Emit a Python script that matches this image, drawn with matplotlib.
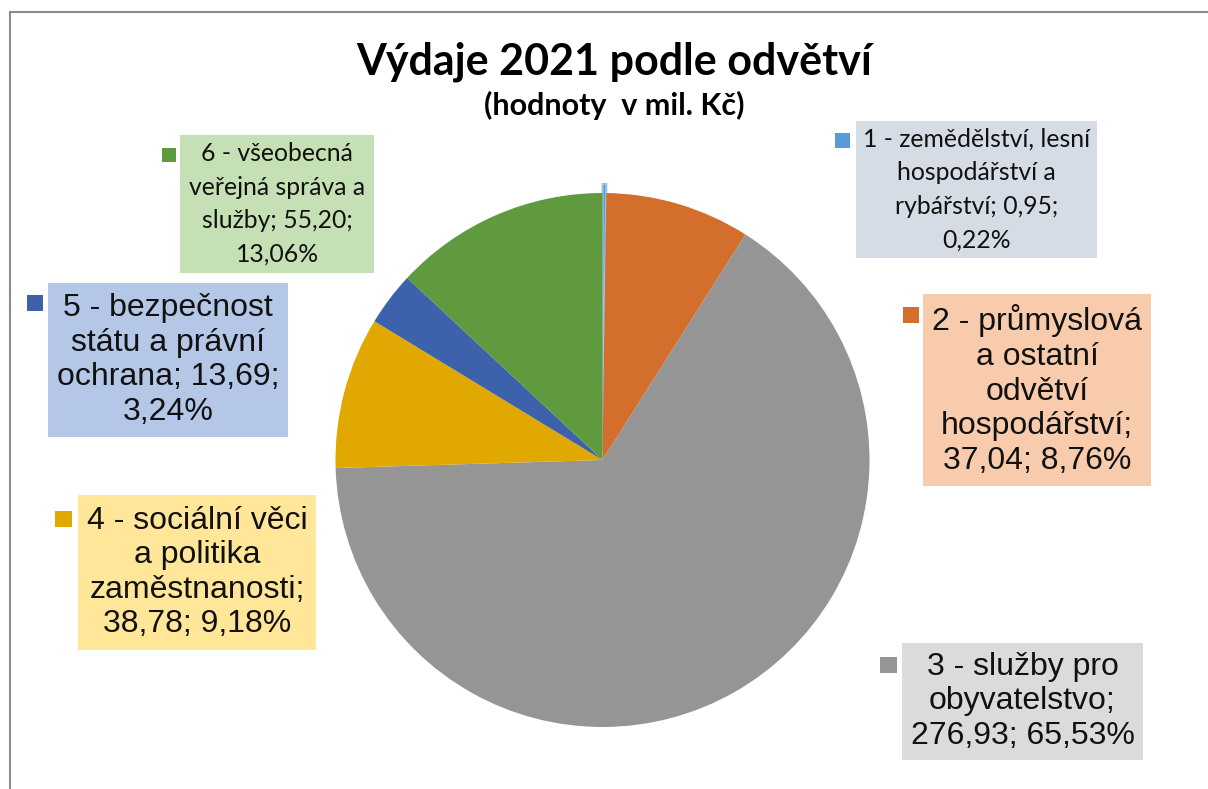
import matplotlib
matplotlib.use('Agg')
import matplotlib.pyplot as plt
from matplotlib.patches import Rectangle
from matplotlib.lines import Line2D

# data (values in mil. Kc)
categories = ['1 - zemědělství, lesní\nhospodářství a\nrybářství',
              '2 - průmyslová\na ostatní\nodvětví\nhospodářství',
              '3 - služby pro\nobyvatelstvo',
              '4 - sociální věci\na politika\nzaměstnanosti',
              '5 - bezpečnost\nstátu a právní\nochrana',
              '6 - všeobecná\nveřejná správa a\nslužby']
values = [0.95, 37.04, 276.93, 38.78, 13.69, 55.20]
shares = [0.22, 8.76, 65.53, 9.18, 3.24, 13.06]

slice_colors = ['#5B9BD5', '#D46E2C', '#959595', '#E0A800', '#3D62AC', '#5F9A3E']
box_colors = ['#D6DCE5', '#F8CBAD', '#DBDBDB', '#FFE699', '#B4C7E7', '#C5E0B4']

# label layout: break after name / after value, font family per box
break_after_name = [False, True, True, True, False, False]
break_after_value = [True, False, False, False, True, True]
calibri_like = [True, False, False, False, False, True]

# box and marker rectangles in pixels (x0, y0, x1, y1), y from top
boxes = [(856, 121, 1097, 258), (923, 294, 1151, 486), (902, 643, 1143, 760),
         (78, 495, 316, 650), (48, 283, 288, 437), (180, 135, 374, 273)]
markers = [(835, 133, 850, 148), (903, 307, 919, 323), (880, 657, 897, 673),
           (55, 511, 72, 527), (27, 295, 43, 311), (162, 148, 176, 162)]

W, H = 1208, 789
fig = plt.figure(figsize=(W / 100, H / 100), dpi=100)
ax = fig.add_axes([0, 0, 1, 1])
ax.set_xlim(0, W)
ax.set_ylim(0, H)
ax.set_aspect('equal')
ax.axis('off')

def fy(y):
    return H - y

# frame of the chart area (only top and left visible)
ax.add_line(Line2D([9.5, 9.5], [fy(11.5), 0], color='#8C8C8C', lw=1.5))
ax.add_line(Line2D([9.5, W], [fy(11.5), fy(11.5)], color='#8C8C8C', lw=1.5))

explode = [9, 0, 0, 0, 0, 0]
wedges, _ = ax.pie(values, colors=slice_colors, startangle=90, counterclock=False,
                   center=(602.5, fy(460)), radius=267, explode=explode,
                   wedgeprops=dict(linewidth=0))
wedges[0].set_edgecolor('#9DC3E6')
wedges[0].set_linewidth(1.5)
ax.set_xlim(0, W)
ax.set_ylim(0, H)

ax.text(614, fy(74), 'Výdaje 2021 podle odvětví', ha='center', va='baseline',
        fontsize=31, fontweight='bold', family='Lato', color='black')
ax.text(614, fy(115), '(hodnoty  v mil. Kč)', ha='center', va='baseline',
        fontsize=22, fontweight='bold', family='Lato', color='black')

for i in range(len(values)):
    v = f'{values[i]:.2f}'.replace('.', ',')
    p = f'{shares[i]:.2f}'.replace('.', ',') + '%'
    s1 = ';\n' if break_after_name[i] else '; '
    s2 = ';\n' if break_after_value[i] else '; '
    label = categories[i] + s1 + v + s2 + p

    x0, y0, x1, y1 = boxes[i]
    ax.add_patch(Rectangle((x0, fy(y1)), x1 - x0, y1 - y0, facecolor=box_colors[i],
                           edgecolor='none'))
    m0, n0, m1, n1 = markers[i]
    ax.add_patch(Rectangle((m0, fy(n1)), m1 - m0, n1 - n0, facecolor=slice_colors[i],
                           edgecolor='none'))
    if calibri_like[i]:
        fam, fs, ls = 'Lato', 17.8, 1.55
    else:
        fam, fs, ls = 'Liberation Sans', 23, 1.2
    ax.text((x0 + x1) / 2, fy((y0 + y1) / 2), label, ha='center', va='center',
            multialignment='center', fontsize=fs, family=fam, linespacing=ls,
            color='#111111')

fig.savefig('out.png', dpi=100)
